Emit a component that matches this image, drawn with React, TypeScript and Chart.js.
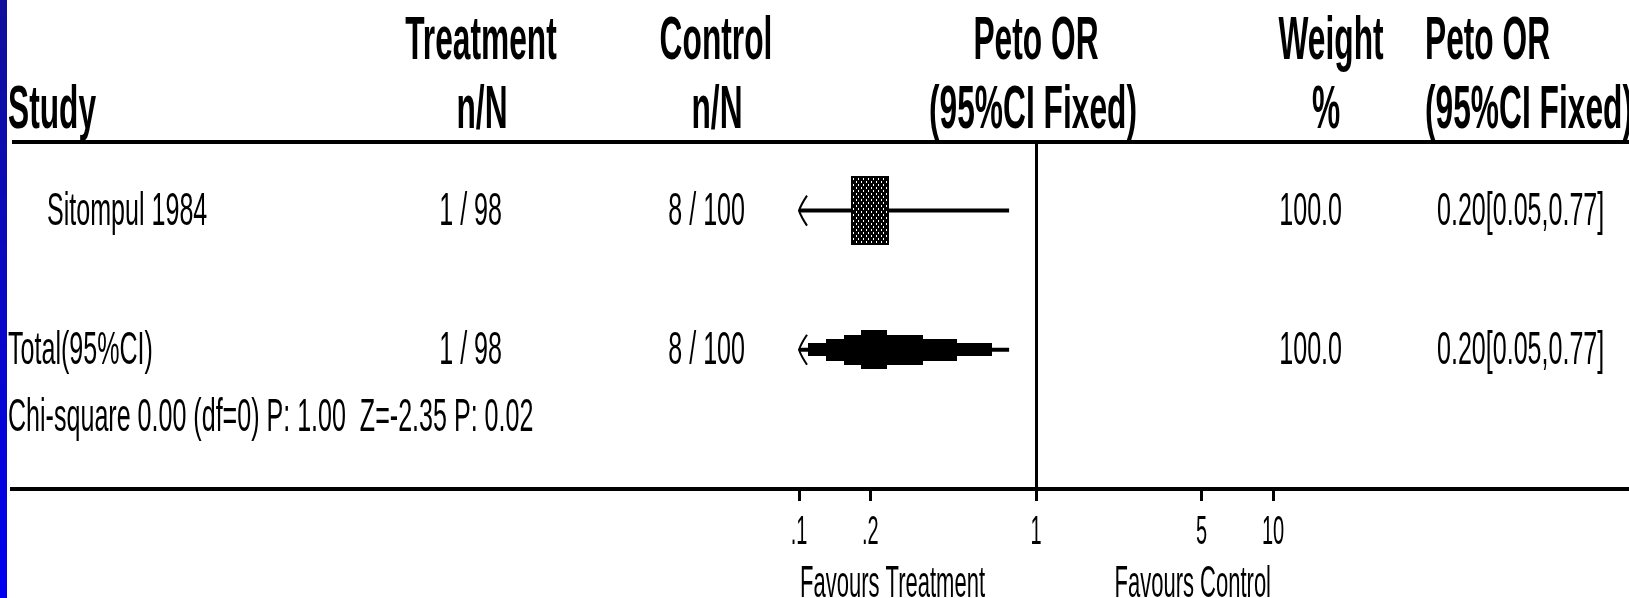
import React, { useEffect, useRef } from "react";
import { Chart, registerables } from "chart.js";

Chart.register(...registerables);

// ---------- data ----------
const headerTop = ["Treatment", "Control", "Peto OR", "Weight", "Peto OR"];
const headerBottom = ["n/N", "n/N", "(95%CI Fixed)", "%", "(95%CI Fixed)"];
const studyHeader = "Study";

const studyNames = ["Sitompul 1984"];
const treatEvents = [1];
const treatTotals = [98];
const ctrlEvents = [8];
const ctrlTotals = [100];
const oddsRatios = [0.2];
const ciLower = [0.05];
const ciUpper = [0.77];
const weights = [100.0];

const totalLabel = "Total(95%CI)";
const totalTreat = [1, 98];
const totalCtrl = [8, 100];
const totalOR = [0.2];
const totalLower = [0.05];
const totalUpper = [0.77];
const totalWeight = [100.0];

const heterogeneityText = "Chi-square 0.00 (df=0) P: 1.00  Z=-2.35 P: 0.02";

const axisMin = 0.1;
const axisMax = 10;
const tickValues = [0.1, 0.2, 1, 5, 10];
const tickLabels = [".1", ".2", "1", "5", "10"];
const favoursLabels = ["Favours Treatment", "Favours Control"];

// ---------- styles ----------
const W = 1629;
const H = 598;
const FONT = '"Liberation Sans", Arial, sans-serif';
const HEAD = { size: 61, bold: true, sx: 0.52 };
const BODY = { size: 46, bold: false, sx: 0.545 };
const TICK = { size: 40, bold: false, sx: 0.5 };
const FAV = { size: 44, bold: false, sx: 0.5 };

const fmtN = (n: number, t: number) => `${n} / ${t}`;
const fmtOR = (o: number, l: number, u: number) =>
  `${o.toFixed(2)}[${l.toFixed(2)},${u.toFixed(2)}]`;

function drawText(
  ctx: CanvasRenderingContext2D,
  s: string,
  x: number,
  y: number,
  st: { size: number; bold: boolean; sx: number },
  align: "left" | "center" | "right"
) {
  ctx.save();
  ctx.font = `${st.bold ? "bold " : ""}${st.size}px ${FONT}`;
  ctx.textBaseline = "alphabetic";
  ctx.textAlign = "left";
  ctx.fillStyle = "#000";
  const w = ctx.measureText(s).width * st.sx;
  const x0 = align === "center" ? x - w / 2 : align === "right" ? x - w : x;
  ctx.translate(x0, y);
  ctx.scale(st.sx, 1);
  ctx.fillText(s, 0, 0);
  ctx.restore();
}

function makePattern(ctx: CanvasRenderingContext2D) {
  const c = document.createElement("canvas");
  c.width = 5;
  c.height = 6;
  const p = c.getContext("2d")!;
  p.fillStyle = "#000";
  p.fillRect(0, 0, 5, 6);
  p.fillStyle = "#fff";
  p.fillRect(1, 1, 1, 2);
  p.fillRect(3, 4, 1, 2);
  return ctx.createPattern(c, "repeat")!;
}

function drawArrow(ctx: CanvasRenderingContext2D, xTip: number, cy: number, dir: number) {
  ctx.save();
  ctx.strokeStyle = "#000";
  ctx.lineWidth = 2;
  ctx.beginPath();
  ctx.moveTo(xTip + dir * 8, cy - 15);
  ctx.quadraticCurveTo(xTip + dir * 2, cy - 6, xTip, cy);
  ctx.quadraticCurveTo(xTip + dir * 2, cy + 6, xTip + dir * 8, cy + 15);
  ctx.stroke();
  ctx.restore();
}

const forestPlugin = {
  id: "forest",
  beforeDraw(chart: any) {
    const { ctx } = chart;
    ctx.save();
    ctx.fillStyle = "#fff";
    ctx.fillRect(0, 0, W, H);
    const g = ctx.createLinearGradient(0, 0, 0, H);
    g.addColorStop(0, "#10109a");
    g.addColorStop(1, "#0000f0");
    ctx.fillStyle = g;
    ctx.fillRect(0, 0, 7, H);
    ctx.restore();
  },
  afterDatasetsDraw(chart: any) {
    const { ctx, chartArea, scales } = chart;
    const x = scales.x;
    const y = scales.y;
    const pattern = makePattern(ctx);
    // study squares
    studyNames.forEach((_, i) => {
      const cy = y.getPixelForValue(i + 0.5);
      const cx = x.getPixelForValue(oddsRatios[i]);
      const bw = 38 * (weights[i] / 100);
      const bh = 69 * (weights[i] / 100);
      ctx.save();
      ctx.fillStyle = pattern;
      ctx.fillRect(Math.round(cx - bw / 2), Math.round(cy - bh / 2), Math.round(bw), Math.round(bh));
      ctx.strokeStyle = "#000";
      ctx.lineWidth = 2;
      ctx.strokeRect(Math.round(cx - bw / 2) + 1, Math.round(cy - bh / 2) + 1, Math.round(bw) - 2, Math.round(bh) - 2);
      ctx.restore();
      if (ciLower[i] < axisMin) drawArrow(ctx, chartArea.left, cy, 1);
      if (ciUpper[i] > axisMax) drawArrow(ctx, chartArea.right, cy, -1);
    });
    // total (stepped diamond)
    const ty = y.getPixelForValue(studyNames.length + 0.5);
    const xl = Math.max(x.getPixelForValue(totalLower[0]), chartArea.left);
    const xr = Math.min(x.getPixelForValue(totalUpper[0]), chartArea.right);
    const xc = x.getPixelForValue(totalOR[0]);
    const HH = 19.5;
    ctx.save();
    ctx.fillStyle = "#000";
    for (let k = 1; k <= 4; k++) {
      const f = (k - 0.5) / 4;
      const hh = (HH * (k + 0.5)) / 4.5;
      const l = xl + (xc - xl) * f;
      const r = xr - (xr - xc) * f;
      ctx.fillRect(Math.round(l), Math.round(ty - hh), Math.round(r - l), Math.round(2 * hh));
    }
    ctx.restore();
    if (totalLower[0] < axisMin) drawArrow(ctx, chartArea.left, ty, 1);
    if (totalUpper[0] > axisMax) drawArrow(ctx, chartArea.right, ty, -1);
  },
  afterDraw(chart: any) {
    const { ctx, chartArea, scales } = chart;
    const x = scales.x;
    const y = scales.y;
    const x1 = x.getPixelForValue(1);
    // rules
    ctx.save();
    ctx.fillStyle = "#000";
    ctx.fillRect(12, chartArea.top - 1, W - 12, 4);
    ctx.fillRect(10, chartArea.bottom - 2, W - 10, 4);
    ctx.restore();

    // headers
    const topBase = 59;
    const botBase = 128;
    const colTop: [number, "left" | "center" | "right"][] = [
      [481, "center"],
      [716, "center"],
      [x1, "center"],
      [1331, "center"],
      [1425, "left"],
    ];
    const colBot: [number, "left" | "center" | "right"][] = [
      [482, "center"],
      [717, "center"],
      [x1 - 3, "center"],
      [1326, "center"],
      [1425, "left"],
    ];
    headerTop.forEach((s, i) => drawText(ctx, s, colTop[i][0], topBase, HEAD, colTop[i][1]));
    headerBottom.forEach((s, i) => drawText(ctx, s, colBot[i][0], botBase, HEAD, colBot[i][1]));
    drawText(ctx, studyHeader, 8, botBase, HEAD, "left");

    // rows
    const rowText = (label: string, lx: number, cy: number, t: string, c: string, w: number, o: string) => {
      const b = cy + 14;
      drawText(ctx, label, lx, b, BODY, "left");
      drawText(ctx, t, 502, b, BODY, "right");
      drawText(ctx, c, 745, b, BODY, "right");
      drawText(ctx, w.toFixed(1), 1342, b, BODY, "right");
      drawText(ctx, o, 1437, b, BODY, "left");
    };
    studyNames.forEach((name, i) => {
      rowText(
        name,
        47,
        y.getPixelForValue(i + 0.5),
        fmtN(treatEvents[i], treatTotals[i]),
        fmtN(ctrlEvents[i], ctrlTotals[i]),
        weights[i],
        fmtOR(oddsRatios[i], ciLower[i], ciUpper[i])
      );
    });
    rowText(
      totalLabel,
      8,
      y.getPixelForValue(studyNames.length + 0.5),
      fmtN(totalTreat[0], totalTreat[1]),
      fmtN(totalCtrl[0], totalCtrl[1]),
      totalWeight[0],
      fmtOR(totalOR[0], totalLower[0], totalUpper[0])
    );
    drawText(ctx, heterogeneityText, 8, 431, BODY, "left");

    // tick labels
    x.ticks.forEach((t: any) => {
      const idx = tickValues.indexOf(t.value);
      if (idx < 0) return;
      drawText(ctx, tickLabels[idx], x.getPixelForValue(t.value), chartArea.bottom + 55, TICK, "center");
    });
    drawText(ctx, favoursLabels[0], chartArea.left + 1, H - 1, FAV, "left");
    drawText(ctx, favoursLabels[1], chartArea.right - 2, H - 1, FAV, "right");
  },
};

export default function App() {
  const ref = useRef<HTMLCanvasElement | null>(null);
  useEffect(() => {
    if (!ref.current) return;
    const rows = studyNames.length + 1;
    const studyData = studyNames.map((_, i) => ({
      label: studyNames[i],
      data: [
        { x: ciLower[i], y: i + 0.5 },
        { x: ciUpper[i], y: i + 0.5 },
      ],
      showLine: true,
      borderColor: "#000",
      borderWidth: 4,
      pointRadius: 0,
      clip: 0,
    }));
    const totalData = {
      label: totalLabel,
      data: [
        { x: totalLower[0], y: studyNames.length + 0.5 },
        { x: totalUpper[0], y: studyNames.length + 0.5 },
      ],
      showLine: true,
      borderColor: "#000",
      borderWidth: 4,
      pointRadius: 0,
      clip: 0,
    };
    const chart = new Chart(ref.current, {
      type: "scatter",
      data: { datasets: [...studyData, totalData] as any },
      options: {
        animation: false,
        responsive: false,
        events: [],
        layout: { padding: { left: 799, right: W - 1273, top: 141, bottom: H - 489 - 12 } },
        plugins: { legend: { display: false }, title: { display: false }, tooltip: { enabled: false } },
        scales: {
          x: {
            type: "logarithmic",
            min: axisMin,
            max: axisMax,
            position: "bottom",
            afterBuildTicks: (s: any) => {
              s.ticks = tickValues.map((v) => ({ value: v }));
            },
            border: { display: false },
            grid: {
              display: true,
              drawOnChartArea: true,
              drawTicks: true,
              tickLength: 12,
              tickWidth: 3,
              tickColor: "#000",
              lineWidth: 3,
              color: (c: any) => (c.tick && c.tick.value === 1 ? "#000" : "rgba(0,0,0,0)"),
            },
            ticks: { display: false },
          },
          y: {
            type: "linear",
            min: 0,
            max: rows + 0.5,
            reverse: true,
            display: false,
          },
        },
      },
      plugins: [forestPlugin],
    });
    return () => chart.destroy();
  }, []);
  return (
    <div style={{ position: "fixed", left: 0, top: 0, width: W, height: H, background: "#fff" }}>
      <canvas ref={ref} width={W} height={H} style={{ display: "block", width: W, height: H }} />
    </div>
  );
}
